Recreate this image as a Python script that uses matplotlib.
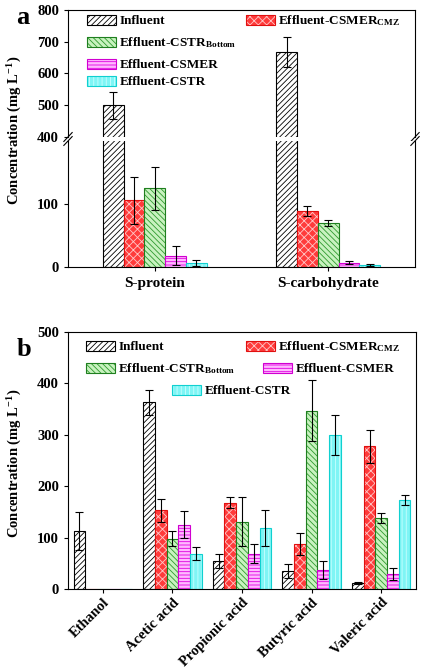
import numpy as np
import matplotlib
matplotlib.use("Agg")
import matplotlib.pyplot as plt
from matplotlib.patches import Patch

plt.rcParams['font.family'] = ['Liberation Serif', 'DejaVu Serif']
plt.rcParams['font.weight'] = 'bold'
plt.rcParams['mathtext.fontset'] = 'custom'
plt.rcParams['mathtext.rm'] = 'Liberation Serif:bold'
plt.rcParams['mathtext.bf'] = 'Liberation Serif:bold'
plt.rcParams['mathtext.it'] = 'Liberation Serif:bold'
plt.rcParams['hatch.linewidth'] = 0.6

# data
series = ['Influent', r'Effluent-CSMER$_{\mathbf{CMZ}}$', r'Effluent-CSTR$_{\mathbf{Bottom}}$',
          'Effluent-CSMER', 'Effluent-CSTR']

cats_a = ['S-protein', 'S-carbohydrate']
vals_a = [[500, 668], [106, 89], [125, 70], [18, 7], [6, 3]]
errs_a = [[42, 47], [37, 8], [34, 5], [15, 2.5], [5, 1.5]]

cats_b = ['Ethanol', 'Acetic acid', 'Propionic acid', 'Butyric acid', 'Valeric acid']
vals_b = [[113, 363, 54, 35, 11],
          [0, 153, 168, 88, 278],
          [0, 98, 131, 347, 138],
          [0, 125, 69, 37, 29],
          [0, 69, 118, 300, 173]]
errs_b = [[37, 25, 14, 13, 2],
          [0, 23, 11, 21, 32],
          [0, 15, 48, 60, 9],
          [0, 26, 19, 18, 12],
          [0, 12, 35, 39, 9]]

# face, hatch, hatch colour, outline
styles = [('white', '//////', 'black', 'black'),
          ('#ff3b3b', 'xxxx', '#ffc8c8', '#e01010'),
          ('#c8f2bf', '\\\\\\\\\\\\', '#2f9a2f', '#1f7f1f'),
          ('#ffb8ff', '-----', '#e000e0', '#d000d0'),
          ('#7ff5f5', '||||', '#c8ffff', '#10d0d0')]


def draw(ax, x, vals, errs, i, w):
    face, h, hc, edge = styles[i]
    ax.bar(x, vals, w, color=face, edgecolor=hc, hatch=h, linewidth=0)
    ax.bar(x, vals, w, fill=False, edgecolor=edge, linewidth=0.8)
    mask = np.array(vals) > 0
    ax.errorbar(np.array(x)[mask], np.array(vals)[mask], yerr=np.array(errs)[mask],
                fmt='none', ecolor='black', elinewidth=0.8, capsize=3, capthick=0.8)


def handle(i):
    face, h, hc, edge = styles[i]
    return (Patch(facecolor=face, edgecolor=hc, hatch=h, linewidth=0),
            Patch(fill=False, edgecolor=edge, linewidth=0.8))


def style_ax(ax):
    ax.tick_params(direction='out', length=3, width=0.8, labelsize=10.5)
    for s in ax.spines.values():
        s.set_linewidth(0.8)


W, H = 427, 669
fig = plt.figure(figsize=(4.27, 6.69), dpi=100)

def fx(px):
    return px / W

def fy(py):
    return 1 - py / H

# ---- panel a (broken axis) ----
left, right = 68, 415
ax_top = fig.add_axes([fx(left), fy(137), fx(right - left), (137 - 10) / H])
ax_bot = fig.add_axes([fx(left), fy(267), fx(right - left), (267 - 141) / H])
wa = 0.12
xa = np.arange(len(cats_a))
for ax in (ax_top, ax_bot):
    for i in range(5):
        draw(ax, xa + (i - 2) * wa, vals_a[i], errs_a[i], i, wa)
    ax.set_xlim(-0.5, 1.5)
    style_ax(ax)
ax_top.set_ylim(400, 800)
ax_top.set_yticks([400, 500, 600, 700, 800])
ax_bot.set_ylim(0, 200)
ax_bot.set_yticks([0, 100])
ax_top.spines['bottom'].set_visible(False)
ax_bot.spines['top'].set_visible(False)
ax_top.tick_params(axis='x', bottom=False, labelbottom=False)
ax_bot.set_xticks(xa)
ax_bot.set_xticklabels(cats_a, fontsize=11)
ax_bot.tick_params(axis='x', pad=4)

# break marks
d = 0.012
for xx in (0, 1):
    for yy, ax in ((0, ax_top), (1, ax_bot)):
        ax.plot([xx - d, xx + d], [yy - 0.035, yy + 0.035], transform=ax.transAxes,
                color='black', lw=0.8, clip_on=False)

fig.text(fx(15), fy(130), r'Concentration (mg L$^{-1}$)', rotation=90,
         ha='center', va='center', fontsize=10.5)
fig.text(fx(16), fy(17), 'a', fontsize=19, ha='left', va='center')

# legend entries, placed one by one
leg_a = [(0, 87, 21), (1, 246, 21), (2, 87, 43), (3, 87, 65), (4, 87, 82)]
for i, px, py in leg_a:
    fig.legend([handle(i)], [series[i]], loc='center left',
               bbox_to_anchor=(fx(px), fy(py)), frameon=False, fontsize=9.5,
               borderpad=0, borderaxespad=0, handlelength=2.2, handleheight=0.8,
               handletextpad=0.25)

# ---- panel b ----
ax_b = fig.add_axes([fx(68), fy(589), fx(416 - 68), (589 - 332) / H])
wb = 0.168
xb = np.arange(len(cats_b))
for i in range(5):
    draw(ax_b, xb + (i - 2) * wb, vals_b[i], errs_b[i], i, wb)
ax_b.set_xlim(-0.5, 4.5)
ax_b.set_ylim(0, 500)
ax_b.set_yticks([0, 100, 200, 300, 400, 500])
ax_b.set_xticks(xb)
ax_b.set_xticklabels(cats_b, rotation=45, ha='right', rotation_mode='anchor', fontsize=10)
style_ax(ax_b)
ax_b.tick_params(axis='x', pad=2)
fig.text(fx(15), fy(463), r'Concentration (mg L$^{-1}$)', rotation=90,
         ha='center', va='center', fontsize=10.5)
fig.text(fx(17), fy(350), 'b', fontsize=19, ha='left', va='center')

leg_b = [(0, 86, 347), (1, 246, 347), (2, 86, 369), (3, 263, 369), (4, 172, 391)]
for i, px, py in leg_b:
    fig.legend([handle(i)], [series[i]], loc='center left',
               bbox_to_anchor=(fx(px), fy(py)), frameon=False, fontsize=9.5,
               borderpad=0, borderaxespad=0, handlelength=2.2, handleheight=0.8,
               handletextpad=0.25)

fig.savefig('out.png', dpi=100)
